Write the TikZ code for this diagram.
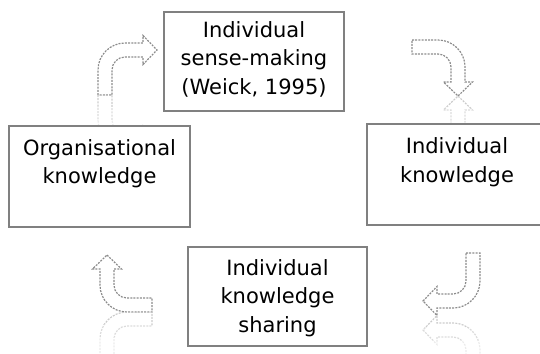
\documentclass[tikz,border=0pt]{standalone}
\usepackage{fontspec}
\setmainfont{DejaVu Sans}
\definecolor{boxgray}{RGB}{128,128,128}
\definecolor{arrgray}{RGB}{140,140,140}
\tikzset{
  cbox/.style={draw=boxgray, line width=1.3bp, fill=white, inner sep=0pt},
  ctext/.style={font=\fontsize{21bp}{28.5bp}\selectfont, align=center, inner sep=0pt, anchor=north},
  arr/.style={draw=arrgray, line width=1.2bp, dash pattern=on 2bp off 1.2bp},
}
\newcommand\pathTL{(98,95) -- (98,70) .. controls (98,55.09) and (110.09,43) .. (125,43) -- (143,43) -- (143,35.5) -- (157,50) -- (143,64.5) -- (143,57) -- (125,57) .. controls (117.82,57) and (112,62.82) .. (112,70) -- (112,95) -- cycle}
\newcommand\pathTR{(412,40) -- (438,40) .. controls (452.91,40) and (465,52.09) .. (465,67) -- (465,82) -- (472.5,82) -- (458,96) -- (443.5,82) -- (451,82) -- (451,67) .. controls (451,59.82) and (445.18,54) .. (438,54) -- (412,54) -- cycle}
\newcommand\pathBR{(466,253) -- (480,253) -- (480,281) .. controls (480,295.91) and (467.91,308) .. (453,308) -- (437,308) -- (437,315.5) -- (423,301) -- (437,286.5) -- (437,294) -- (453,294) .. controls (460.18,294) and (466,288.18) .. (466,281) -- cycle}
\newcommand\pathBL{(107,255) -- (121.5,269) -- (114,269) -- (114,285) .. controls (114,292.18) and (119.82,298) .. (127,298) -- (152,298) -- (152,312) -- (127,312) .. controls (112.09,312) and (100,299.91) .. (100,285) -- (100,269) -- (92.5,269) -- cycle}
\newcommand\reflarrow[2]{%
  \foreach \ra/\rb/\rc in {0/12/40, 12/25/28, 25/45/16} {
    \begin{scope}
      \clip (0,#1+\ra) rectangle (540,#1+\rb);
      \draw[arr, draw=gray!\rc, shift={(0,2*#1)}, yscale=-1] #2;
    \end{scope}}}
\begin{document}
\begin{tikzpicture}[x=1bp, y=-1bp]
  \useasboundingbox (0,0) rectangle (540,353);
  % arrows
  \draw[arr] \pathTL;
  \draw[arr] \pathTR;
  \draw[arr] \pathBR;
  \draw[arr] \pathBL;
  % reflections
  \reflarrow{95}{\pathTL}
  \reflarrow{96}{\pathTR}
  \reflarrow{315.5}{\pathBR}
  \reflarrow{312}{\pathBL}
  % boxes
  \node[cbox, minimum width=180bp, minimum height=99bp] (sense) at (254,61.5) {};
  \node[ctext] (senset) at (254,21) {Individual\\sense-making\\(Weick, 1995)};
  \node[cbox, minimum width=181bp, minimum height=101bp] (org) at (99.5,176.5) {};
  \node[ctext] (orgt) at (99.5,139) {Organisational\\knowledge};
  \node[cbox, minimum width=180bp, minimum height=101bp] (ind) at (457,174.5) {};
  \node[ctext] (indt) at (457,137.5) {Individual\\knowledge};
  \node[cbox, minimum width=179bp, minimum height=99bp] (share) at (277.5,296.5) {};
  \node[ctext] (sharet) at (277.5,259) {Individual\\knowledge\\sharing};
\end{tikzpicture}
\end{document}
